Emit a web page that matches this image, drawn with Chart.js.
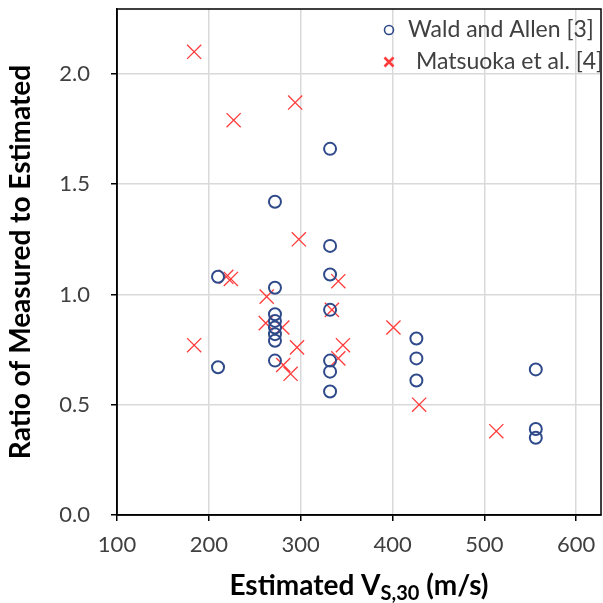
<!DOCTYPE html>
<html>
<head>
<meta charset="utf-8">
<script src="https://cdn.jsdelivr.net/npm/chart.js@4.4.1/dist/chart.umd.min.js"></script>
<style>
  html, body { margin: 0; padding: 0; background: #fff; }
  #wrap { width: 603px; height: 603px; }
</style>
</head>
<body>
<div id="wrap"><canvas id="scatter" width="603" height="603"></canvas></div>
<script>
// Wald and Allen [3]
var waldX = [332, 272, 332, 332, 210, 272, 332, 272, 272, 272, 272, 272, 272, 210, 332, 332, 332, 426, 426, 426, 556, 556, 556];
var waldY = [1.66, 1.42, 1.22, 1.09, 1.08, 1.03, 0.93, 0.91, 0.88, 0.85, 0.82, 0.79, 0.70, 0.67, 0.70, 0.65, 0.56, 0.80, 0.71, 0.61, 0.66, 0.39, 0.35];
// Matsuoka et al. [4]
var matsX = [184, 227, 294, 298, 219, 224, 341, 263, 334, 262, 280, 401, 184, 296, 346, 341, 281, 289, 429, 513];
var matsY = [2.10, 1.79, 1.87, 1.25, 1.08, 1.07, 1.06, 0.99, 0.93, 0.87, 0.85, 0.85, 0.77, 0.76, 0.77, 0.71, 0.68, 0.64, 0.50, 0.38];
var seriesNames = ["Wald and Allen [3]", "Matsuoka et al. [4]"];

var xTicks = [100, 200, 300, 400, 500, 600];
var yTicks = [0.0, 0.5, 1.0, 1.5, 2.0];

function pts(xs, ys) {
  return xs.map(function (x, i) { return { x: x, y: ys[i] }; });
}

var navy = "#2f4a8a";
var red = "#ff3b3b";
var labelColor = "#404040";
var fontFam = "Lato, 'Open Sans', sans-serif";

// frame, legend and subscripted x title
var extras = {
  id: "extras",
  afterDraw: function (chart) {
    var c = chart.ctx, a = chart.chartArea;
    c.save();
    c.strokeStyle = "#000";
    c.lineWidth = 1.5;
    c.strokeRect(a.left, a.top, a.right - a.left, a.bottom - a.top);

    // legend
    var lx = a.right - 212, ly = a.top + 21;
    c.strokeStyle = navy; c.lineWidth = 1.6;
    c.beginPath(); c.arc(lx, ly, 4.5, 0, Math.PI * 2); c.stroke();
    c.strokeStyle = red; c.lineWidth = 2.6;
    c.beginPath();
    c.moveTo(lx - 4.5, ly + 27.5); c.lineTo(lx + 4.5, ly + 36.5);
    c.moveTo(lx + 4.5, ly + 27.5); c.lineTo(lx - 4.5, ly + 36.5);
    c.stroke();
    c.fillStyle = labelColor;
    c.font = "23px " + fontFam;
    c.textBaseline = "middle";
    c.textAlign = "left";
    c.fillText(seriesNames[0], lx + 19, ly);
    c.fillText(seriesNames[1], lx + 27, ly + 32);

    // x axis title with subscript
    c.fillStyle = "#000";
    var big = "bold 28px " + fontFam, small = "bold 20px " + fontFam;
    var p1 = "Estimated V", p2 = "S,30", p3 = " (m/s)";
    c.font = big; var w1 = c.measureText(p1).width, w3 = c.measureText(p3).width;
    c.font = small; var w2 = c.measureText(p2).width;
    var cx = (a.left + a.right) / 2, ty = 595;
    var x0 = cx - (w1 + w2 + w3) / 2;
    c.textBaseline = "alphabetic";
    c.font = big; c.fillText(p1, x0, ty);
    c.font = small; c.fillText(p2, x0 + w1, ty + 5);
    c.font = big; c.fillText(p3, x0 + w1 + w2, ty);
    c.restore();
  }
};

new Chart(document.getElementById("scatter"), {
  type: "scatter",
  data: {
    datasets: [
      {
        label: seriesNames[0],
        data: pts(waldX, waldY),
        pointStyle: "circle",
        pointRadius: 6,
        pointBorderWidth: 2,
        borderColor: navy,
        backgroundColor: "rgba(0,0,0,0)"
      },
      {
        label: seriesNames[1],
        data: pts(matsX, matsY),
        pointStyle: "crossRot",
        pointRadius: 10,
        pointBorderWidth: 1.3,
        borderColor: red,
        backgroundColor: red
      }
    ]
  },
  options: {
    responsive: false,
    animation: false,
    layout: { autoPadding: false, padding: { top: 9, right: 2, left: 0, bottom: 0 } },
    plugins: { legend: { display: false }, tooltip: { enabled: false } },
    scales: {
      x: {
        type: "linear",
        min: 100,
        max: 627,
        afterBuildTicks: function (s) { s.ticks = xTicks.map(function (v) { return { value: v }; }); },
        afterFit: function (s) { s.height = 88; s.paddingLeft = 0; s.paddingRight = 0; },
        ticks: {
          color: labelColor,
          font: { family: fontFam, size: 22 },
          padding: 11,
          maxRotation: 0
        },
        grid: { color: "#d9d9d9", lineWidth: 1.5, tickColor: "#000", tickLength: 6 },
        border: { color: "#000", width: 1.5 }
      },
      y: {
        min: 0,
        max: 2.294,
        afterBuildTicks: function (s) { s.ticks = yTicks.map(function (v) { return { value: v }; }); },
        afterFit: function (s) { s.width = 117; s.paddingTop = 0; s.paddingBottom = 0; },
        ticks: {
          color: labelColor,
          font: { family: fontFam, size: 22 },
          padding: 21,
          callback: function (v) { return Number(v).toFixed(1); }
        },
        title: {
          display: true,
          text: "Ratio of Measured to Estimated",
          color: "#000",
          font: { family: fontFam, size: 28, weight: "bold" },
          padding: { top: 4, bottom: 0 }
        },
        grid: { color: "#d9d9d9", lineWidth: 1.5, tickColor: "#000", tickLength: 6 },
        border: { color: "#000", width: 1.5 }
      }
    }
  },
  plugins: [extras]
});
</script>
</body>
</html>
